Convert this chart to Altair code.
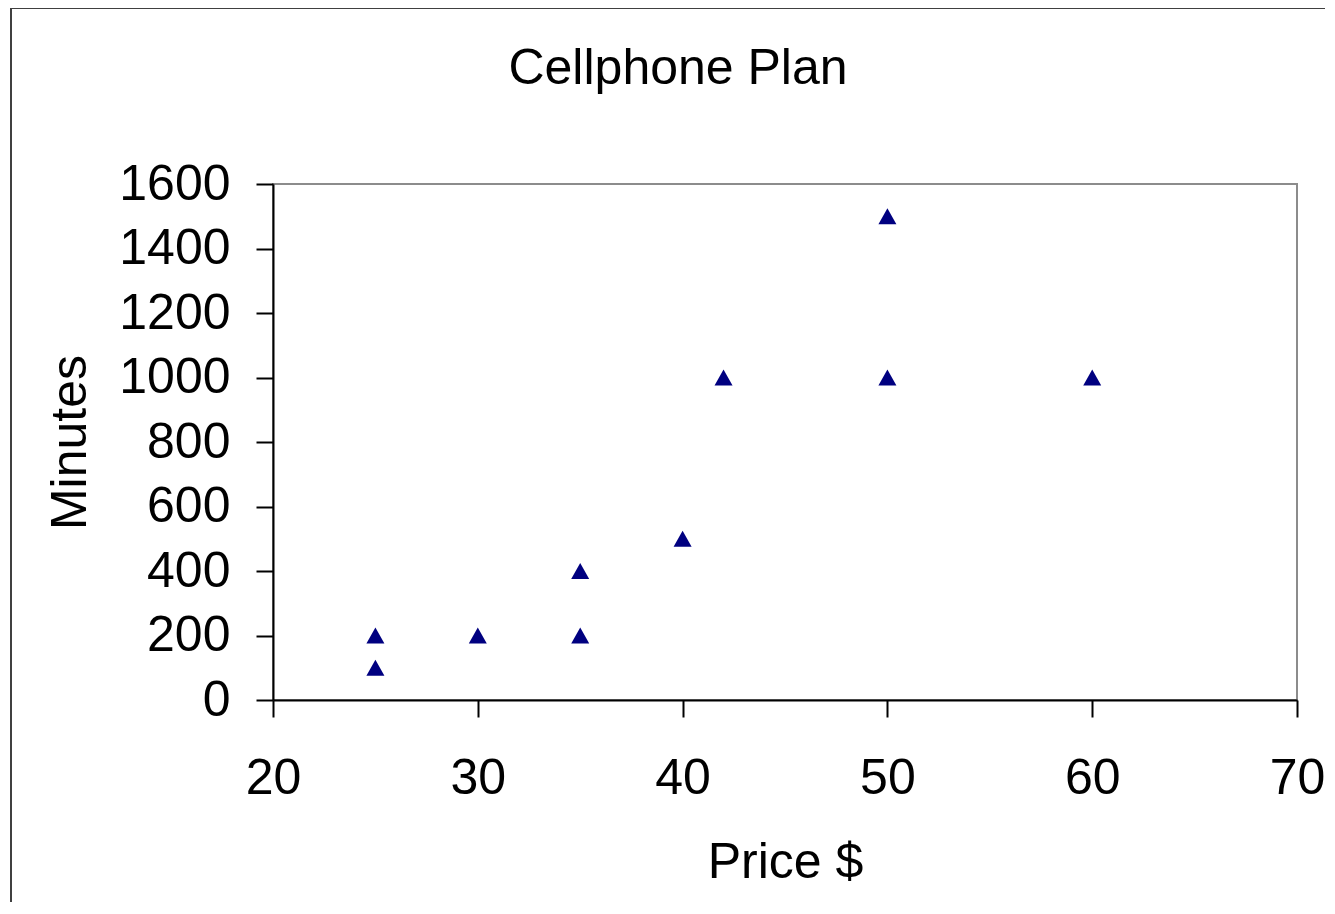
import altair as alt
import pandas as pd

price = [25, 25, 30, 35, 35, 40, 42, 50, 50, 60]
minutes = [200, 100, 200, 400, 200, 500, 1000, 1500, 1000, 1000]
x_ticks = [20, 30, 40, 50, 60, 70]
y_ticks = [0, 200, 400, 600, 800, 1000, 1200, 1400, 1600]

df = pd.DataFrame({"Price": price, "Minutes": minutes})

FONT = "Liberation Sans"
W, H = 1024, 516

tri = "M-1,0.9L0,-0.9L1,0.9Z"

points = alt.Chart(df).mark_point(
    shape=tri, filled=True, color="#000080", size=324, opacity=1
).encode(
    x=alt.X("Price:Q",
            scale=alt.Scale(domain=[20, 70], nice=False, zero=False),
            axis=alt.Axis(values=x_ticks, title="Price $", grid=False, format="d",
                          tickSize=17, tickWidth=2, tickColor="black",
                          domainColor="black", domainWidth=2,
                          labelFont=FONT, labelFontSize=50, labelColor="black",
                          labelPadding=36, labelFlush=False,
                          titleFont=FONT, titleFontSize=50, titleFontWeight="normal",
                          titleColor="black", titleBaseline="alphabetic",
                          titleY=177, titleX=W / 2, titleAlign="center")),
    y=alt.Y("Minutes:Q",
            scale=alt.Scale(domain=[0, 1600], nice=False),
            axis=alt.Axis(values=y_ticks, title="Minutes", grid=False, format="d",
                          tickSize=17, tickWidth=2, tickColor="black",
                          domainColor="black", domainWidth=2,
                          labelFont=FONT, labelFontSize=50, labelColor="black",
                          labelPadding=26, labelFlush=False,
                          titleFont=FONT, titleFontSize=50, titleFontWeight="normal",
                          titleColor="black", titleAngle=-90,
                          titleBaseline="alphabetic", titleAlign="center",
                          titleX=-188, titleY=H / 2)),
)

border = alt.Chart(pd.DataFrame({"a": [0]})).mark_rect(
    fill=None, stroke="#404040", strokeWidth=2
).encode(
    x=alt.value(-262), x2=alt.value(1200),
    y=alt.value(-176), y2=alt.value(900),
)

chart = alt.layer(border, points).properties(
    width=W, height=H,
    autosize=alt.AutoSizeParams(type="none"),
    padding={"left": 265, "top": 176, "right": 28, "bottom": 202},
    title=alt.TitleParams("Cellphone Plan", font=FONT, fontSize=50,
                          fontWeight="normal", color="black",
                          anchor="middle", frame="group", dx=-107,
                          baseline="alphabetic", offset=0, dy=127),
).configure(background="white").configure_view(stroke="#8c8c8c", strokeWidth=2)

chart.save("out.html", embed_options={"renderer": "svg", "actions": False})
